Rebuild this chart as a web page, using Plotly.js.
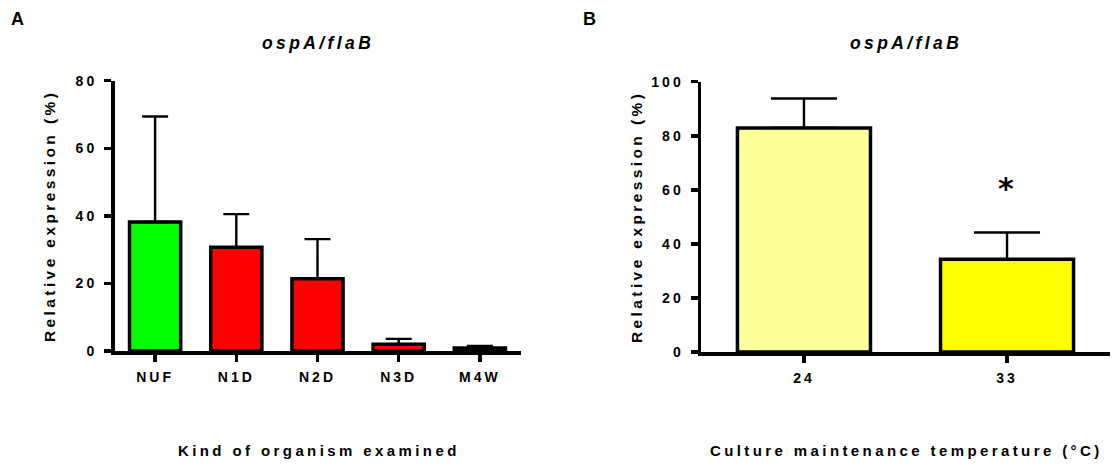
<!DOCTYPE html>
<html>
<head>
<meta charset="utf-8">
<script src="https://cdn.plot.ly/plotly-3.0.1.min.js"></script>
<style>
  html, body { margin: 0; padding: 0; background: #fff; }
  #chart { width: 1113px; height: 467px; }
  .xtick text, .ytick text, .x2tick text, .y2tick text { letter-spacing: 3px; }
  .annotation-text { letter-spacing: 3.4px; }
</style>
</head>
<body>
<div id="chart"></div>
<script>
// ---- data ----
const categoriesA = ['NUF', 'N1D', 'N2D', 'N3D', 'M4W'];
const valuesA = [38.2, 30.7, 21.4, 2.0, 0.9];
const errorsA = [31.2, 9.8, 11.7, 1.6, 0.6];

const categoriesB = ['24', '33'];
const valuesB = [82.9, 34.3];
const errorsB = [10.9, 9.9];

const yTicksA = [0, 20, 40, 60, 80];
const yTicksB = [0, 20, 40, 60, 80, 100];

const titleA = 'ospA/flaB';
const titleB = 'ospA/flaB';
const yTitle = 'Relative expression (%)';
const xTitleA = 'Kind of organism examined';
const xTitleB = 'Culture maintenance temperature (°C)';
const significanceB = { categoryIndex: 1, value: 62.6, text: '*' };

// ---- styles ----
const colorsA = ['#00ff00', '#ff0000', '#ff0000', '#ff0000', '#ff0000'];
const colorsB = ['#ffff99', '#ffff00'];
const W = 1113, H = 467;
const px = v => v / W;
const py = v => 1 - v / H;
const FONT = 'Liberation Sans, Arial, sans-serif';

const traces = [
  {
    type: 'bar', x: categoriesA, y: valuesA, xaxis: 'x', yaxis: 'y',
    width: 0.63,
    marker: { color: colorsA, line: { color: '#000', width: 3.5 } },
    error_y: { type: 'data', array: errorsA, arrayminus: errorsA.map(() => 0), symmetric: false,
               color: '#000', thickness: 2.4, width: 13 },
    hoverinfo: 'none', showlegend: false
  },
  {
    type: 'bar', x: categoriesB, y: valuesB, xaxis: 'x2', yaxis: 'y2',
    width: 0.655,
    marker: { color: colorsB, line: { color: '#000', width: 3.5 } },
    error_y: { type: 'data', array: errorsB, arrayminus: errorsB.map(() => 0), symmetric: false,
               color: '#000', thickness: 2.4, width: 33 },
    hoverinfo: 'none', showlegend: false
  }
];

const tickFont = { family: FONT, size: 14, color: '#000', weight: 'bold' };
const axisCommon = {
  showline: true, linecolor: '#000', linewidth: 3.5,
  ticks: 'outside', ticklen: 7, tickwidth: 3.5, tickcolor: '#000',
  showgrid: false, zeroline: false, fixedrange: true, tickfont: tickFont
};

const layout = {
  width: W, height: H,
  margin: { l: 0, r: 0, t: 0, b: 0 },
  paper_bgcolor: '#fff', plot_bgcolor: '#fff',
  xaxis: Object.assign({}, axisCommon, {
    type: 'category', domain: [px(114.5), px(520.5)], range: [-0.5, 4.5],
    anchor: 'y', ticklabelstandoff: 4
  }),
  yaxis: Object.assign({}, axisCommon, {
    domain: [py(351), py(80.7)], range: [0, 80], tickvals: yTicksA,
    anchor: 'x', ticklabelstandoff: 4
  }),
  xaxis2: Object.assign({}, axisCommon, {
    type: 'category', domain: [px(701), px(1110)], range: [-0.507, 1.507],
    anchor: 'y2', ticklabelstandoff: 4
  }),
  yaxis2: Object.assign({}, axisCommon, {
    domain: [py(352), py(81.7)], range: [0, 100], tickvals: yTicksB,
    anchor: 'x2', ticklabelstandoff: 4
  }),
  annotations: [
    { text: 'A', x: px(19), y: py(19), xref: 'paper', yref: 'paper', showarrow: false,
      xanchor: 'center', yanchor: 'middle', font: { family: FONT, size: 18, weight: 'bold', color: '#000' } },
    { text: 'B', x: px(591), y: py(19), xref: 'paper', yref: 'paper', showarrow: false,
      xanchor: 'center', yanchor: 'middle', font: { family: FONT, size: 18, weight: 'bold', color: '#000' } },
    { text: titleA, x: px(317.5), y: py(43), xref: 'paper', yref: 'paper', showarrow: false,
      xanchor: 'center', yanchor: 'middle',
      font: { family: FONT, size: 17.5, weight: 'bold', style: 'italic', color: '#000' } },
    { text: titleB, x: px(905.5), y: py(43), xref: 'paper', yref: 'paper', showarrow: false,
      xanchor: 'center', yanchor: 'middle',
      font: { family: FONT, size: 17.5, weight: 'bold', style: 'italic', color: '#000' } },
    { text: yTitle, x: px(50), y: py(216), xref: 'paper', yref: 'paper', showarrow: false,
      textangle: -90, xanchor: 'center', yanchor: 'middle',
      font: { family: FONT, size: 15.5, weight: 'bold', color: '#000' } },
    { text: yTitle, x: px(637), y: py(217), xref: 'paper', yref: 'paper', showarrow: false,
      textangle: -90, xanchor: 'center', yanchor: 'middle',
      font: { family: FONT, size: 15.5, weight: 'bold', color: '#000' } },
    { text: xTitleA, x: px(319), y: py(450), xref: 'paper', yref: 'paper', showarrow: false,
      xanchor: 'center', yanchor: 'middle',
      font: { family: FONT, size: 15, weight: 'bold', color: '#000' } },
    { text: xTitleB, x: px(906), y: py(450), xref: 'paper', yref: 'paper', showarrow: false,
      xanchor: 'center', yanchor: 'middle',
      font: { family: FONT, size: 15, weight: 'bold', color: '#000' } },
    { text: significanceB.text, x: significanceB.categoryIndex, y: significanceB.value,
      xref: 'x2', yref: 'y2', showarrow: false, xanchor: 'center', yanchor: 'middle', yshift: -6,
      font: { family: 'DejaVu Sans, sans-serif', size: 30, weight: 'bold', color: '#000' } }
  ]
};

Plotly.newPlot('chart', traces, layout, { staticPlot: true, displayModeBar: false });
</script>
</body>
</html>
